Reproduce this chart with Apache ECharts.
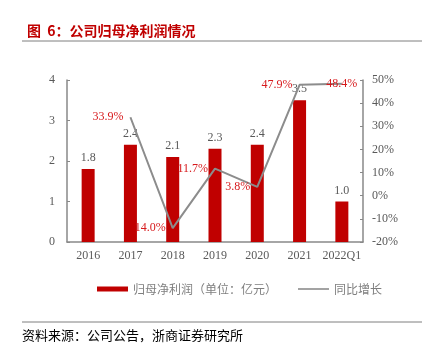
<!DOCTYPE html>
<html><head><meta charset="utf-8">
<script src="https://cdn.jsdelivr.net/npm/echarts@6/dist/echarts.min.js"></script>
<style>html,body{margin:0;padding:0;background:#fff}#c{width:422px;height:345px}</style>
</head><body><div id="c"></div>
<script>
const categories = ['2016','2017','2018','2019','2020','2021','2022Q1'];
const profit = [1.8, 2.4, 2.1, 2.3, 2.4, 3.5, 1.0];
const growth = ['-', 33.9, -14.0, 11.7, 3.8, 47.9, 48.4];
const growthLabels = ['', '33.9%', '14.0%', '11.7%', '3.8%', '47.9%', '48.4%'];
const growthLabelPos = ['left','left','left','left','left','left','inside'];

const serif = 'Liberation Serif, Times New Roman, serif';
const cjk = 'Noto Sans CJK SC, sans-serif';
const chart = echarts.init(document.getElementById('c'));
chart.setOption({
  animation: false,
  title: { text: '图  6：公司归母净利润情况', left: 22, top: 19,
    textStyle: { color: '#C00000', fontSize: 14, fontWeight: 'bold', fontFamily: cjk } },
  graphic: [
    { type: 'line', shape: { x1: 22, y1: 41, x2: 422, y2: 41 }, style: { stroke: '#7f7f7f', lineWidth: 1 } },
    { type: 'line', shape: { x1: 22, y1: 322, x2: 422, y2: 322 }, style: { stroke: '#7f7f7f', lineWidth: 1 } },
    { type: 'text', left: 22, top: 329, style: { text: '资料来源：公司公告，浙商证券研究所', fill: '#000', font: '13px ' + cjk } }
  ],
  legend: { left: 92, top: 278, itemGap: 21, itemWidth: 31, itemHeight: 5,
    textStyle: { color: '#7f7f7f', fontSize: 12, fontFamily: cjk },
    data: [ { name: '归母净利润（单位：亿元）', icon: 'rect' },
            { name: '同比增长', icon: 'path://M0 0H31V1.6H0Z' } ] },
  grid: { left: 67, right: 59, top: 80, bottom: 103 },
  xAxis: { type: 'category', data: categories,
    axisLine: { lineStyle: { color: '#898989', width: 1.5 } },
    axisTick: { inside: true, length: 3, lineStyle: { color: '#898989' } },
    axisLabel: { interval: 0, color: '#595959', fontSize: 12, fontFamily: serif, margin: 8 } },
  yAxis: [
    { type: 'value', min: 0, max: 4, interval: 1, splitLine: { show: false },
      axisLine: { show: true, lineStyle: { color: '#898989', width: 1.5 } },
      axisTick: { show: true, inside: true, length: 3 },
      axisLabel: { color: '#595959', fontSize: 12, fontFamily: serif, margin: 12 } },
    { type: 'value', min: -20, max: 50, interval: 10, splitLine: { show: false },
      axisLine: { show: true, lineStyle: { color: '#898989', width: 1.5 } },
      axisTick: { show: true, inside: true, length: 3 },
      axisLabel: { color: '#595959', fontSize: 12, fontFamily: serif, margin: 9, formatter: '{value}%' } }
  ],
  series: [
    { name: '归母净利润（单位：亿元）', type: 'bar', data: profit, barWidth: 13,
      itemStyle: { color: '#C00000' },
      label: { show: true, position: 'top', distance: 5, color: '#595959', fontSize: 12, fontFamily: serif,
        formatter: p => p.value.toFixed(1) } },
    { name: '同比增长', type: 'line', yAxisIndex: 1, symbol: 'circle', symbolSize: 0.1, showSymbol: true,
      data: growth.map((v, i) => ({ value: v,
        label: { show: v !== '-', position: growthLabelPos[i], distance: 7, formatter: growthLabels[i] } })),
      lineStyle: { color: '#8c8c8c', width: 2 }, itemStyle: { color: '#8c8c8c' },
      label: { show: true, color: '#D7191C', fontSize: 12, fontFamily: serif } }
  ]
});
</script></body></html>
